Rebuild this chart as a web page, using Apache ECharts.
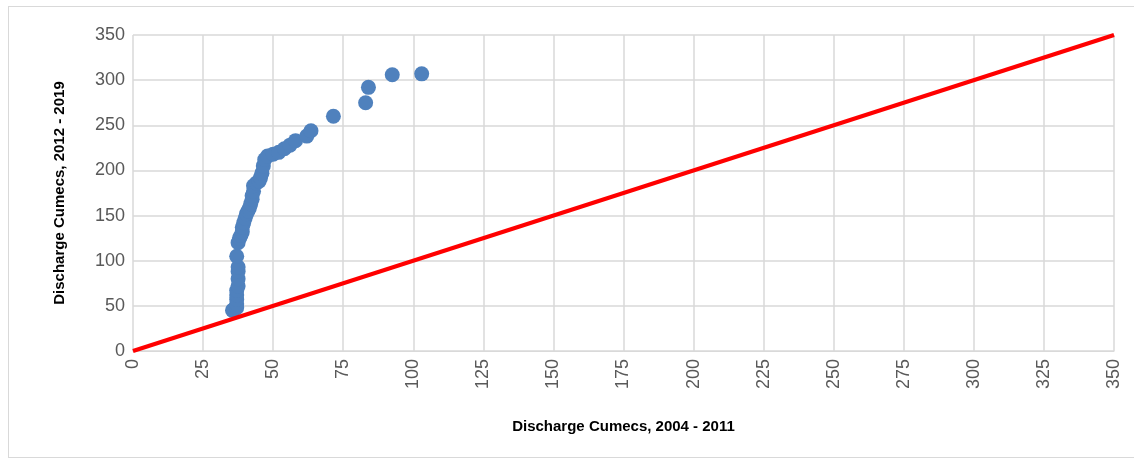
<!DOCTYPE html>
<html><head><meta charset="utf-8">
<script src="https://cdn.jsdelivr.net/npm/echarts@6/dist/echarts.min.js"></script>
<style>html,body{margin:0;background:#fff}#chart{width:1134px;height:459px}</style>
</head><body><div id="chart"></div>
<script>
// discharge pairs (2004-2011, 2012-2019)
var xVals = [35.5, 36, 37, 37, 37, 37, 37, 37.5, 37.5, 37.5, 37.5, 37, 37.5, 38, 38.5, 39, 39, 39.5, 40, 40.5, 41, 41.5, 42, 42.5, 42.5, 43, 43, 44, 45, 45.5, 46, 46.5, 47, 48, 50, 52, 54, 56, 58, 62, 63.5, 71.5, 83, 84, 92.5, 103];
var yVals = [45, 46, 48, 52, 57, 62, 67, 72, 80, 88, 93, 105, 120, 125, 128, 132, 137, 142, 147, 152, 155, 158, 163, 168, 172, 177, 183, 186, 188, 192, 197, 205, 212, 216, 218, 220, 224, 228, 233, 238, 244, 260, 275, 292, 306, 307];
var lineX = [0, 350];
var lineY = [0, 350];

var chart = echarts.init(document.getElementById('chart'));
var axisLbl = { color: '#595959', fontSize: 18, fontFamily: 'Liberation Sans' };
chart.setOption({
    animation: false,
    grid: { left: 133, right: 20, top: 35, bottom: 108 },
    xAxis: {
        type: 'value', min: 0, max: 350, interval: 25,
        name: 'Discharge Cumecs, 2004 - 2011', nameLocation: 'middle', nameGap: 68,
        nameTextStyle: { fontWeight: 'bold', fontSize: 15, color: '#000', fontFamily: 'Liberation Sans' },
        axisLabel: Object.assign({ rotate: 90, margin: 8 }, axisLbl),
        axisLine: { lineStyle: { color: '#d9d9d9' } }, axisTick: { show: false },
        splitLine: { lineStyle: { color: '#d9d9d9', width: 1.5 } }
    },
    yAxis: {
        type: 'value', min: 0, max: 350, interval: 50,
        name: 'Discharge Cumecs, 2012 - 2019', nameLocation: 'middle', nameGap: 66,
        nameTextStyle: { fontWeight: 'bold', fontSize: 15, color: '#000', fontFamily: 'Liberation Sans' },
        axisLabel: axisLbl,
        axisLine: { show: false }, axisTick: { show: false },
        splitLine: { lineStyle: { color: '#d9d9d9', width: 1.5 } }
    },
    series: [
        { type: 'scatter', symbolSize: 15, itemStyle: { color: '#4f81bd', opacity: 1 },
          data: xVals.map(function (x, i) { return [x, yVals[i]]; }) },
        { type: 'line', symbol: 'none', lineStyle: { color: '#ff0000', width: 4 },
          data: lineX.map(function (x, i) { return [x, lineY[i]]; }) }
    ]
});
</script>
<div style="position:absolute;left:8px;top:6px;width:1125px;height:450px;border:1px solid #d9d9d9;pointer-events:none"></div>
</body></html>
